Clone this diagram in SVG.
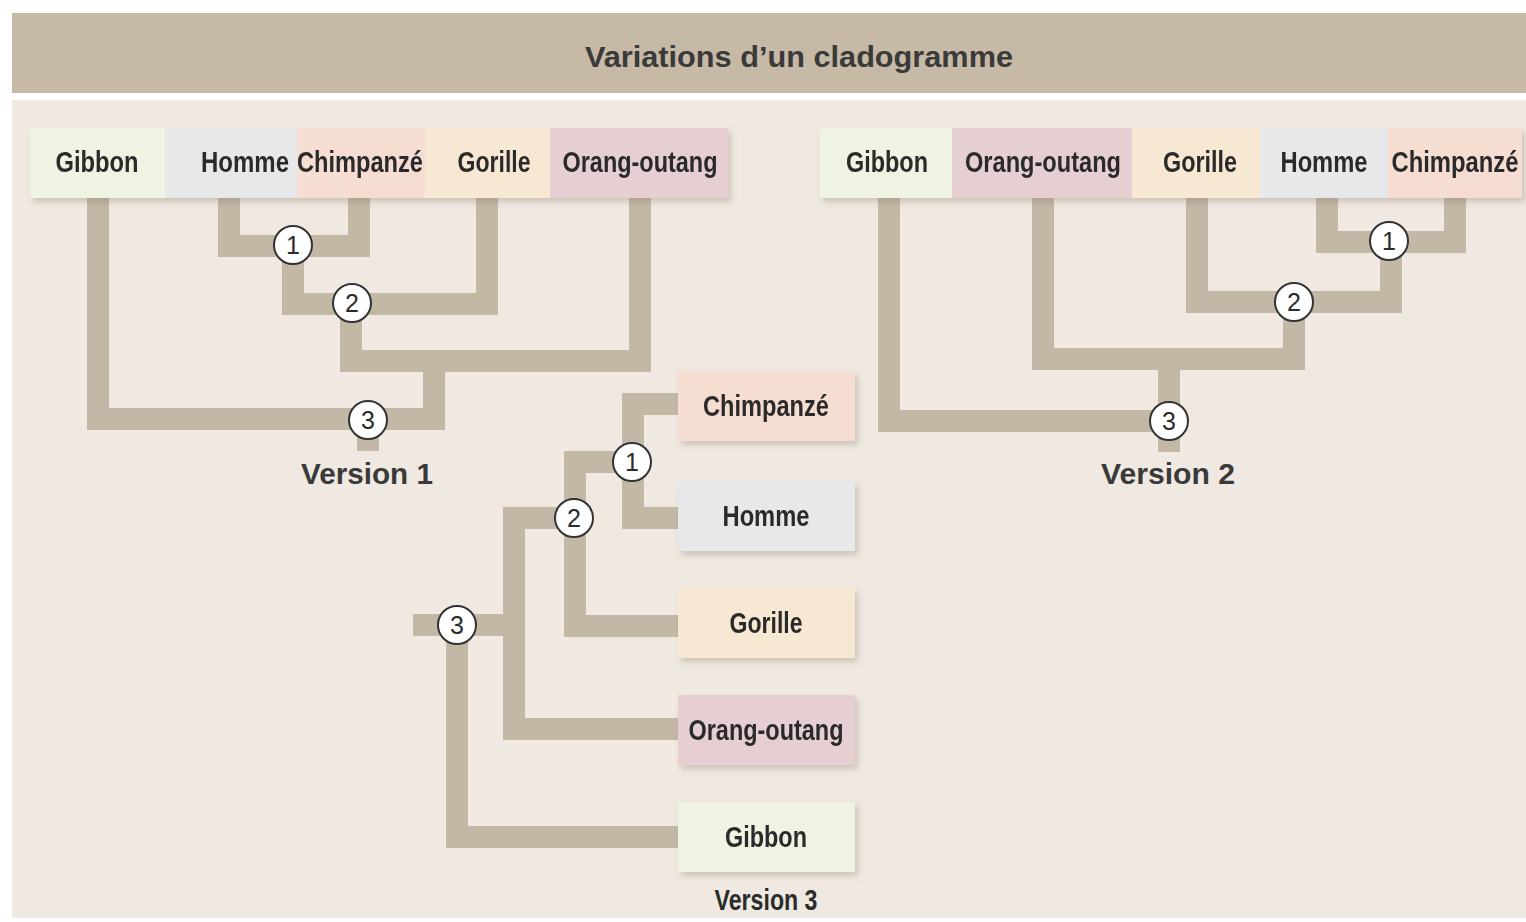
<svg xmlns="http://www.w3.org/2000/svg" width="1526" height="922" viewBox="0 0 1526 922">
  <style>
    .lbl { font-family: "Liberation Sans", Arial, sans-serif; font-weight: bold; font-size: 29px; fill: #2b2b2b; text-anchor: middle; }
    .ver { font-family: "Liberation Sans", Arial, sans-serif; font-weight: bold; font-size: 29px; fill: #3a3a3a; text-anchor: middle; }
    .num { font-family: "Liberation Sans", Arial, sans-serif; font-size: 25px; fill: #2b2b2b; text-anchor: middle; }
    .branch { fill: none; stroke: #c3b7a5; stroke-width: 22; stroke-linejoin: miter; stroke-linecap: butt; }
    .node circle { fill: #ffffff; stroke: #333333; stroke-width: 2; }
    .green { fill: #eef3e2; }
    .blue { fill: #e6e8ea; }
    .salmon { fill: #f6ddd2; }
    .peach { fill: #f7e8d3; }
    .mauve { fill: #e6cfd3; }
  </style>
  <defs>
    <filter id="shadow" x="-10%" y="-20%" width="120%" height="150%">
      <feDropShadow dx="3" dy="4" stdDeviation="3" flood-color="#7a6d5c" flood-opacity="0.3"/>
    </filter>
  </defs>

  <!-- page -->
  <rect x="0" y="0" width="1526" height="922" fill="#ffffff"/>
  <rect x="12" y="100" width="1514" height="818" fill="#efe9e1"/>
  <rect x="12" y="13" width="1514" height="80" fill="#c6b9a5"/>
  <text x="799" y="67" font-family="Liberation Sans, Arial, sans-serif" font-weight="bold" font-size="30" fill="#3a3a3a" text-anchor="middle" textLength="428" lengthAdjust="spacingAndGlyphs">Variations d’un cladogramme</text>

  <!-- connectors -->
  <g id="connectors">
    <!-- version 1 -->
    <path class="branch" d="M229 198 V246 H359 V198"/>
    <path class="branch" d="M293 246 V304 H487 V198"/>
    <path class="branch" d="M351 304 V361 H640 V198"/>
    <path class="branch" d="M434 361 V419 H98 V198"/>
    <path class="branch" d="M368 419 V451"/>
    <!-- version 2 -->
    <path class="branch" d="M1327 198 V242 H1455 V198"/>
    <path class="branch" d="M1391 242 V302 H1197 V198"/>
    <path class="branch" d="M1294 302 V359 H1043 V198"/>
    <path class="branch" d="M1169 359 V421 H889 V198"/>
    <path class="branch" d="M1169 421 V452"/>
    <!-- version 3 -->
    <path class="branch" d="M678 404 H633 V518 H678"/>
    <path class="branch" d="M633 462 H575 V626 H678"/>
    <path class="branch" d="M575 518 H514 V729 H678"/>
    <path class="branch" d="M413 625 H514"/>
    <path class="branch" d="M457 625 V837 H678"/>
  </g>

  <!-- version 1 taxa -->
  <g id="v1-taxa" filter="url(#shadow)">
    <g id="v1-gibbon"><rect class="green" x="30" y="128" width="135" height="70"/><text class="lbl" x="97" y="172" textLength="83" lengthAdjust="spacingAndGlyphs">Gibbon</text></g>
    <g id="v1-homme"><rect class="blue" x="165" y="128" width="132" height="70"/><text class="lbl" x="245" y="172" textLength="88" lengthAdjust="spacingAndGlyphs">Homme</text></g>
    <g id="v1-chimpanze"><rect class="salmon" x="297" y="128" width="128" height="70"/><text class="lbl" x="360" y="172" textLength="126" lengthAdjust="spacingAndGlyphs">Chimpanzé</text></g>
    <g id="v1-gorille"><rect class="peach" x="425" y="128" width="125" height="70"/><text class="lbl" x="494" y="172" textLength="73" lengthAdjust="spacingAndGlyphs">Gorille</text></g>
    <g id="v1-orang"><rect class="mauve" x="550" y="128" width="178" height="70"/><text class="lbl" x="640" y="172" textLength="155" lengthAdjust="spacingAndGlyphs">Orang-outang</text></g>
  </g>

  <!-- version 2 taxa -->
  <g id="v2-taxa" filter="url(#shadow)">
    <g id="v2-gibbon"><rect class="green" x="820" y="128" width="132" height="70"/><text class="lbl" x="887" y="172" textLength="82" lengthAdjust="spacingAndGlyphs">Gibbon</text></g>
    <g id="v2-orang"><rect class="mauve" x="952" y="128" width="180" height="70"/><text class="lbl" x="1043" y="172" textLength="156" lengthAdjust="spacingAndGlyphs">Orang-outang</text></g>
    <g id="v2-gorille"><rect class="peach" x="1132" y="128" width="128" height="70"/><text class="lbl" x="1200" y="172" textLength="74" lengthAdjust="spacingAndGlyphs">Gorille</text></g>
    <g id="v2-homme"><rect class="blue" x="1260" y="128" width="128" height="70"/><text class="lbl" x="1324" y="172" textLength="87" lengthAdjust="spacingAndGlyphs">Homme</text></g>
    <g id="v2-chimpanze"><rect class="salmon" x="1388" y="128" width="134" height="70"/><text class="lbl" x="1455" y="172" textLength="127" lengthAdjust="spacingAndGlyphs">Chimpanzé</text></g>
  </g>

  <!-- version 3 taxa -->
  <g id="v3-taxa">
    <g id="v3-chimpanze" filter="url(#shadow)"><rect class="salmon" x="678" y="371" width="177" height="70"/><text class="lbl" x="766" y="416" textLength="126" lengthAdjust="spacingAndGlyphs">Chimpanzé</text></g>
    <g id="v3-homme" filter="url(#shadow)"><rect class="blue" x="678" y="481" width="177" height="70"/><text class="lbl" x="766" y="526" textLength="87" lengthAdjust="spacingAndGlyphs">Homme</text></g>
    <g id="v3-gorille" filter="url(#shadow)"><rect class="peach" x="678" y="588" width="177" height="70"/><text class="lbl" x="766" y="633" textLength="73" lengthAdjust="spacingAndGlyphs">Gorille</text></g>
    <g id="v3-orang" filter="url(#shadow)"><rect class="mauve" x="678" y="695" width="177" height="70"/><text class="lbl" x="766" y="740" textLength="155" lengthAdjust="spacingAndGlyphs">Orang-outang</text></g>
    <g id="v3-gibbon" filter="url(#shadow)"><rect class="green" x="678" y="802" width="177" height="70"/><text class="lbl" x="766" y="847" textLength="82" lengthAdjust="spacingAndGlyphs">Gibbon</text></g>
  </g>

  <!-- numbered nodes -->
  <g id="v1-node1" class="node"><circle cx="293" cy="245" r="19"/><text class="num" x="293" y="254">1</text></g>
  <g id="v1-node2" class="node"><circle cx="352" cy="303" r="19"/><text class="num" x="352" y="312">2</text></g>
  <g id="v1-node3" class="node"><circle cx="368" cy="420" r="19"/><text class="num" x="368" y="429">3</text></g>
  <g id="v2-node1" class="node"><circle cx="1389" cy="241" r="19"/><text class="num" x="1389" y="250">1</text></g>
  <g id="v2-node2" class="node"><circle cx="1294" cy="302" r="19"/><text class="num" x="1294" y="311">2</text></g>
  <g id="v2-node3" class="node"><circle cx="1169" cy="421" r="19"/><text class="num" x="1169" y="430">3</text></g>
  <g id="v3-node1" class="node"><circle cx="632" cy="462" r="19"/><text class="num" x="632" y="471">1</text></g>
  <g id="v3-node2" class="node"><circle cx="574" cy="518" r="19"/><text class="num" x="574" y="527">2</text></g>
  <g id="v3-node3" class="node"><circle cx="457" cy="625" r="19"/><text class="num" x="457" y="634">3</text></g>

  <!-- version captions -->
  <text class="ver" x="367" y="484" textLength="132" lengthAdjust="spacingAndGlyphs">Version 1</text>
  <text class="ver" x="1168" y="484" textLength="134" lengthAdjust="spacingAndGlyphs">Version 2</text>
  <text class="lbl" x="766" y="910" font-size="28" textLength="103" lengthAdjust="spacingAndGlyphs">Version 3</text>
</svg>
